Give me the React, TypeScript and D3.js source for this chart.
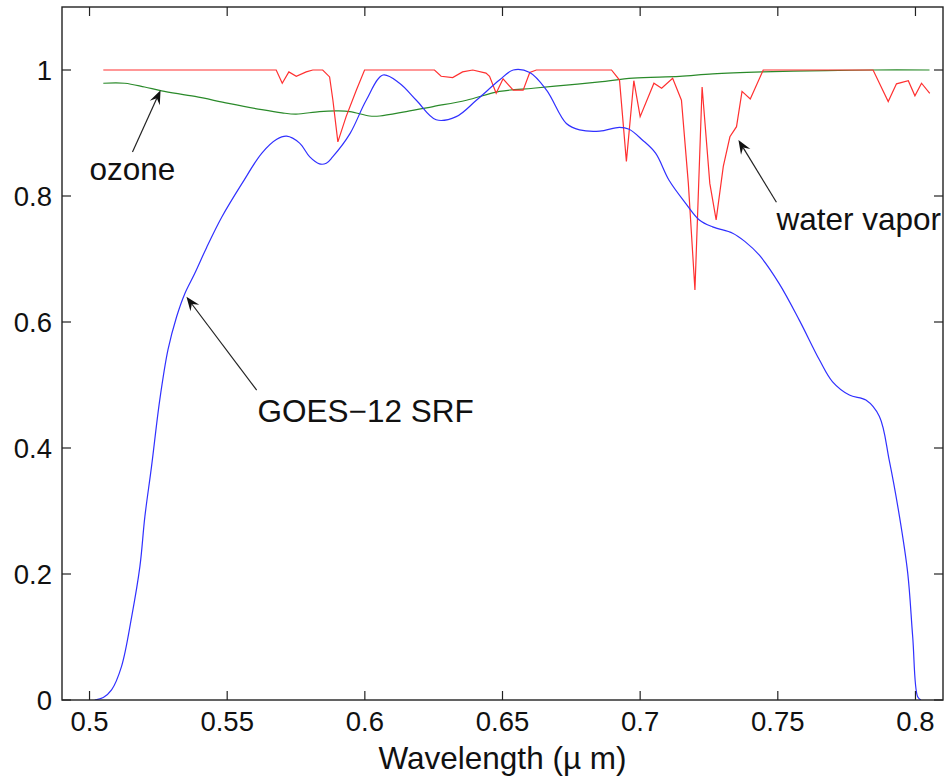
import React from "react";
import * as d3 from "d3";

const xTicks = [0.5, 0.55, 0.6, 0.65, 0.7, 0.75, 0.8];
const xTickLabels = ["0.5", "0.55", "0.6", "0.65", "0.7", "0.75", "0.8"];
const yTicks = [0, 0.2, 0.4, 0.6, 0.8, 1];
const yTickLabels = ["0", "0.2", "0.4", "0.6", "0.8", "1"];

const srfWavelength = [
  0.5019, 0.505, 0.508, 0.5116, 0.5153, 0.5183, 0.5201, 0.5225, 0.5255, 0.5285,
  0.5316, 0.5346, 0.5382, 0.5425, 0.5481, 0.5554, 0.5626, 0.568, 0.5716, 0.5763,
  0.58, 0.5835, 0.586, 0.5883, 0.5946, 0.6005, 0.6066, 0.6126, 0.6187, 0.6259,
  0.6332, 0.6405, 0.6489, 0.6539, 0.6599, 0.666, 0.6732, 0.678, 0.6853, 0.6925,
  0.696, 0.7008, 0.7056, 0.7105, 0.7166, 0.7215, 0.7263, 0.7336, 0.738, 0.7433,
  0.7505, 0.7578, 0.7651, 0.7699, 0.776, 0.782, 0.7869, 0.7905, 0.7942, 0.7972,
  0.799, 0.8008, 0.802,
];
const srfValue = [
  0, 0.004, 0.016, 0.053, 0.132, 0.212, 0.291, 0.37, 0.476, 0.556,
  0.608, 0.645, 0.677, 0.718, 0.767, 0.82, 0.868, 0.89, 0.895, 0.884,
  0.862, 0.851, 0.852, 0.862, 0.899, 0.952, 0.992, 0.979, 0.952, 0.921,
  0.926, 0.952, 0.984, 1.0, 0.996, 0.968, 0.915, 0.905, 0.903, 0.909,
  0.906, 0.889, 0.868, 0.825, 0.788, 0.762, 0.751, 0.741, 0.728, 0.706,
  0.661, 0.603, 0.54, 0.505, 0.484, 0.476, 0.45, 0.38, 0.291, 0.201,
  0.1, 0.005, 0,
];

const ozoneWavelength = [
  0.505, 0.5128, 0.52, 0.5262, 0.5383, 0.5505, 0.5626, 0.5699, 0.575, 0.5835,
  0.59, 0.5946, 0.6017, 0.6054, 0.615, 0.6248, 0.6369, 0.6489, 0.6611, 0.6732,
  0.6853, 0.6974, 0.7143, 0.7264, 0.7445, 0.7676, 0.7845, 0.8051,
];
const ozoneValue = [
  0.979, 0.979, 0.973, 0.967, 0.958, 0.947, 0.937, 0.932, 0.93, 0.934,
  0.935, 0.934, 0.927, 0.927, 0.934, 0.942, 0.952, 0.966, 0.971, 0.976,
  0.981, 0.987, 0.99, 0.994, 0.997, 0.999, 1.0, 1.0,
];

const vaporWavelength = [
  0.505, 0.5678, 0.57, 0.5724, 0.5751, 0.5787, 0.5811, 0.5847, 0.5872, 0.5884,
  0.5902, 0.5932, 0.5969, 0.5999, 0.6253, 0.6277, 0.6319, 0.6355, 0.6392, 0.644,
  0.6453, 0.6477, 0.6502, 0.6539, 0.6575, 0.6599, 0.6623, 0.6896, 0.6925, 0.695,
  0.6977, 0.7, 0.705, 0.7078, 0.7118, 0.715, 0.7175, 0.7199, 0.7225, 0.7253,
  0.7276, 0.7302, 0.7326, 0.735, 0.737, 0.74, 0.7447, 0.7846, 0.7901, 0.7931,
  0.7974, 0.7998, 0.8022, 0.8052,
];
const vaporValue = [
  1.0, 1.0, 0.979, 0.997, 0.99, 0.997, 1.0, 1.0, 0.989, 0.952,
  0.886, 0.926, 0.968, 1.0, 1.0, 0.99, 0.988, 0.997, 1.0, 0.995,
  0.99, 0.963, 0.986, 0.968, 0.968, 0.996, 1.0, 1.0, 0.984, 0.855,
  0.983, 0.926, 0.979, 0.971, 0.987, 0.952, 0.82, 0.651, 0.973, 0.82,
  0.762, 0.847, 0.894, 0.91, 0.966, 0.954, 1.0, 1.0, 0.95, 0.978,
  0.983, 0.959, 0.979, 0.963,
];

// annotation text and arrow endpoints in data coordinates
const annotationLabels = ["ozone", "GOES\u221212 SRF", "water vapor"];
const annotationText = [[0.5, 0.825], [0.561, 0.441], [0.7495, 0.746]];
const annotationTail = [[0.5156, 0.87], [0.5607, 0.492], [0.7495, 0.79]];
const annotationTip = [[0.5258, 0.968], [0.5352, 0.64], [0.7357, 0.889]];

const W = 945;
const H = 778;
const FONT = "'Liberation Sans', Arial, Helvetica, sans-serif";

function Arrow({ x1, y1, x2, y2 }: { x1: number; y1: number; x2: number; y2: number }) {
  const ang = Math.atan2(y2 - y1, x2 - x1);
  const L = 14;
  const Wd = 5.5;
  const notch = 9;
  const ux = Math.cos(ang), uy = Math.sin(ang);
  const px = -uy, py = ux;
  const bx = x2 - ux * L, by = y2 - uy * L;
  const nx = x2 - ux * notch, ny = y2 - uy * notch;
  const pts = [
    [x2, y2],
    [bx + px * Wd, by + py * Wd],
    [nx, ny],
    [bx - px * Wd, by - py * Wd],
  ];
  return (
    <g>
      <line x1={x1} y1={y1} x2={nx} y2={ny} stroke="#222" strokeWidth={1.2} />
      <polygon points={pts.map((p) => p.join(",")).join(" ")} fill="#111" />
    </g>
  );
}

export default function App() {
  const x = d3.scaleLinear().domain([0.49, 0.81]).range([62, 943]);
  const y = d3.scaleLinear().domain([0, 1.1]).range([700, 7]);
  const left = x.range()[0];
  const right = x.range()[1];
  const top = y.range()[1];
  const bottom = y.range()[0];
  const tickLen = 9;

  const smooth = d3
    .line<[number, number]>()
    .x((d) => x(d[0]))
    .y((d) => y(d[1]))
    .curve(d3.curveCatmullRom);
  const jagged = d3
    .line<[number, number]>()
    .x((d) => x(d[0]))
    .y((d) => y(d[1]));

  const srf = srfWavelength.map((w, i) => [w, srfValue[i]] as [number, number]);
  const ozone = ozoneWavelength.map((w, i) => [w, ozoneValue[i]] as [number, number]);
  const vapor = vaporWavelength.map((w, i) => [w, vaporValue[i]] as [number, number]);

  return (
    <svg
      width={W}
      height={H}
      viewBox={`0 0 ${W} ${H}`}
      style={{ position: "absolute", left: 0, top: 0, background: "#fff" }}
      fontFamily={FONT}
    >
      <rect x={0} y={0} width={W} height={H} fill="#fff" />
      <defs>
        <clipPath id="plotclip">
          <rect x={left} y={top} width={right - left} height={bottom - top} />
        </clipPath>
      </defs>

      <g clipPath="url(#plotclip)">
        <path d={smooth(ozone) || ""} fill="none" stroke="#2a8a2a" strokeWidth={1.2} />
        <path d={jagged(vapor) || ""} fill="none" stroke="#ff3030" strokeWidth={1.2} />
        <path d={smooth(srf) || ""} fill="none" stroke="#3030ff" strokeWidth={1.2} />
      </g>

      {/* frame */}
      <rect
        x={left}
        y={top}
        width={right - left}
        height={bottom - top}
        fill="none"
        stroke="#222"
        strokeWidth={1.4}
      />
      {/* ticks */}
      {xTicks.map((t) => (
        <g key={"xt" + t}>
          <line x1={x(t)} x2={x(t)} y1={bottom} y2={bottom - tickLen} stroke="#222" strokeWidth={1.2} />
          <line x1={x(t)} x2={x(t)} y1={top} y2={top + tickLen} stroke="#222" strokeWidth={1.2} />
        </g>
      ))}
      {yTicks.map((t) => (
        <g key={"yt" + t}>
          <line x1={left} x2={left + tickLen} y1={y(t)} y2={y(t)} stroke="#222" strokeWidth={1.2} />
          <line x1={right} x2={right - tickLen} y1={y(t)} y2={y(t)} stroke="#222" strokeWidth={1.2} />
        </g>
      ))}
      {xTicks.map((t, i) => (
        <text key={"xl" + t} x={x(t)} y={bottom + 31} textAnchor="middle" fontSize={27.5} fill="#111">
          {xTickLabels[i]}
        </text>
      ))}
      {yTicks.map((t, i) => (
        <text key={"yl" + t} x={left - 10} y={y(t) + 9.5} textAnchor="end" fontSize={27.5} fill="#111">
          {yTickLabels[i]}
        </text>
      ))}
      <text x={(left + right) / 2} y={769} textAnchor="middle" fontSize={31.5} fill="#111">
        Wavelength (µ m)
      </text>

      {annotationLabels.map((lab, i) => (
        <g key={lab}>
          <Arrow
            x1={x(annotationTail[i][0])}
            y1={y(annotationTail[i][1])}
            x2={x(annotationTip[i][0])}
            y2={y(annotationTip[i][1])}
          />
          <text x={x(annotationText[i][0])} y={y(annotationText[i][1])} fontSize={31.5} fill="#111">
            {lab}
          </text>
        </g>
      ))}
    </svg>
  );
}
